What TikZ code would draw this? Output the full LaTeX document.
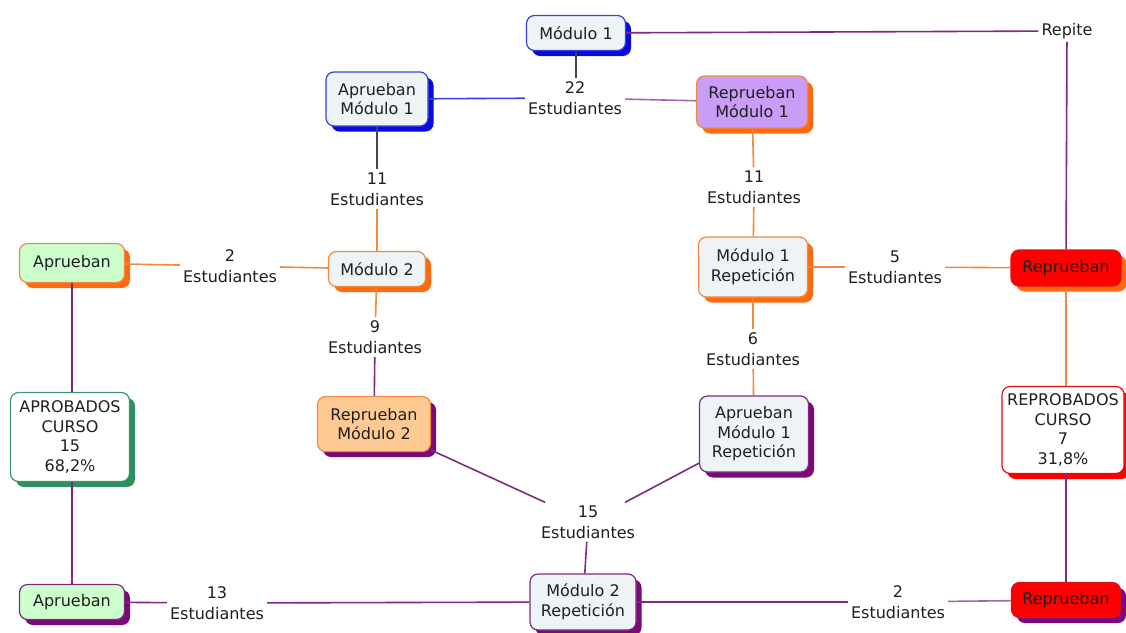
\documentclass[tikz,border=0pt]{standalone}
\usepackage{fontspec}
\setmainfont{DejaVu Sans}
\usetikzlibrary{shadows}

\definecolor{cblue}{HTML}{3344DD}
\definecolor{cblueS}{HTML}{0A0ADC}
\definecolor{corange}{HTML}{F08A40}
\definecolor{corangeS}{HTML}{FF6A10}
\definecolor{cpurp}{HTML}{7F2A80}
\definecolor{cpurpL}{HTML}{A565A8}
\definecolor{cpurpS}{HTML}{7A0A7A}
\definecolor{cgreen}{HTML}{3A9A6A}
\definecolor{cgreenS}{HTML}{2F8F5F}
\definecolor{cred}{HTML}{E01010}
\definecolor{credS}{HTML}{FF0000}
\definecolor{cgray}{HTML}{444444}
\definecolor{clight}{HTML}{EEF3F6}
\definecolor{cmint}{HTML}{CCFFCC}
\definecolor{clav}{HTML}{C99CF5}
\definecolor{cpeach}{HTML}{FFC994}

\begin{document}
\begin{tikzpicture}[x=1pt,y=-1pt,
  box/.style={rectangle, rounded corners=8pt, line width=1.2pt, align=center,
    inner sep=0pt, font=\fontsize{16}{19.5}\selectfont, text=black!88},
  sh/.style={drop shadow={shadow xshift=5.5pt, shadow yshift=-5.5pt, opacity=1, fill=#1}},
  lbl/.style={align=center, inner sep=3pt, font=\fontsize{16}{21}\selectfont, text=black!88},
  ln/.style={line width=1.6pt, draw=#1}]

\useasboundingbox[fill=white] (0,0) rectangle (1126,632);

% boxes
\node[box, draw=cblue, fill=clight, sh=cblueS, minimum width=99pt, minimum height=35pt] (m1) at (576,33) {Módulo 1};
\node[box, draw=cblue, fill=clight, sh=cblueS, minimum width=102pt, minimum height=54pt] (am1) at (377,99) {Aprueban\\Módulo 1};
\node[box, draw=corange, fill=clav, sh=corangeS, minimum width=111pt, minimum height=52pt] (rm1) at (752,102) {Reprueban\\Módulo 1};
\node[box, draw=corange, fill=cmint, sh=corangeS, minimum width=105pt, minimum height=39pt] (ap1) at (72,263) {Aprueban};
\node[box, draw=corange, fill=clight, sh=corangeS, minimum width=97pt, minimum height=35pt] (m2) at (377,269) {Módulo 2};
\node[box, draw=corange, fill=clight, sh=corangeS, minimum width=109pt, minimum height=60pt] (m1r) at (753,267) {Módulo 1\\Repetición};
\node[box, draw=cred, fill=credS, sh=corangeS, minimum width=110pt, minimum height=36pt] (rep1) at (1066,268) {Reprueban};
\node[box, draw=cgreen, fill=white, sh=cgreenS, minimum width=119pt, minimum height=89pt] (acurso) at (70,437) {APROBADOS\\CURSO\\15\\68,2\%};
\node[box, draw=corange, fill=cpeach, sh=cpurpS, minimum width=113pt, minimum height=55pt] (rm2) at (374,424) {Reprueban\\Módulo 2};
\node[box, draw=cpurp, fill=clight, sh=cpurpS, minimum width=109pt, minimum height=76pt] (am1r) at (754,434) {Aprueban\\Módulo 1\\Repetición};
\node[box, draw=cred, fill=white, sh=credS, minimum width=122pt, minimum height=87pt] (rcurso) at (1063,430) {REPROBADOS\\CURSO\\7\\31,8\%};
\node[box, draw=cpurp, fill=cmint, sh=cpurpS, minimum width=105pt, minimum height=35pt] (ap2) at (72,602) {Aprueban};
\node[box, draw=cpurp, fill=clight, sh=cpurpS, minimum width=106pt, minimum height=56pt] (m2r) at (583,602) {Módulo 2\\Repetición};
\node[box, draw=cred, fill=credS, sh=cpurpS, minimum width=109pt, minimum height=35pt] (rep2) at (1066,600) {Reprueban};

% connector labels
\node[lbl] (l22) at (575,98) {22\\Estudiantes};
\node[lbl] (repite) at (1067,31) {Repite};
\node[lbl] (l11a) at (377,189) {11\\Estudiantes};
\node[lbl] (l11b) at (754,187) {11\\Estudiantes};
\node[lbl] (l2a) at (230,266) {2\\Estudiantes};
\node[lbl] (l5) at (895,267) {5\\Estudiantes};
\node[lbl] (l9) at (375,337) {9\\Estudiantes};
\node[lbl] (l6) at (753,349) {6\\Estudiantes};
\node[lbl] (l15) at (588,522) {15\\Estudiantes};
\node[lbl] (l13) at (217,603) {13\\Estudiantes};
\node[lbl] (l2b) at (898,602) {2\\Estudiantes};

% connectors
\draw[ln=cgray] (m1) -- (m1 |- l22.north);
\draw[ln=cblue] (l22) -- (am1);
\draw[ln=cpurpL] (l22) -- (rm1);
\draw[ln=cpurp] (m1) -- (repite);
\draw[ln=cpurp] (repite) -- (rep1);
\draw[ln=cgray] (am1) -- (l11a);
\draw[ln=corange] (l11a) -- (m2);
\draw[ln=corange] (rm1) -- (l11b);
\draw[ln=corange] (l11b) -- (m1r);
\draw[ln=corange] (m2) -- (l2a);
\draw[ln=corange] (l2a) -- (ap1);
\draw[ln=corange] (m2) -- (l9);
\draw[ln=cpurp] (l9) -- (rm2);
\draw[ln=corange] (m1r) -- (l5);
\draw[ln=corange] (l5) -- (rep1);
\draw[ln=corange] (m1r) -- (l6);
\draw[ln=corange] (l6) -- (am1r);
\draw[ln=corange] (rep1) -- (rep1 |- rcurso.north);
\draw[ln=cpurp] (rcurso.south -| rep2) -- (rep2);
\draw[ln=cpurp] (ap1) -- (ap1 |- acurso.north);
\draw[ln=cpurp] (acurso.south -| ap2) -- (ap2);
\draw[ln=cpurp] (rm2) -- (l15);
\draw[ln=cpurp] (am1r) -- (l15);
\draw[ln=cpurp] (l15) -- (m2r);
\draw[ln=cpurp] (m2r) -- (l13);
\draw[ln=cpurp] (l13) -- (ap2);
\draw[ln=cpurp] (m2r) -- (l2b);
\draw[ln=cpurpL] (l2b) -- (rep2);
\end{tikzpicture}
\end{document}
